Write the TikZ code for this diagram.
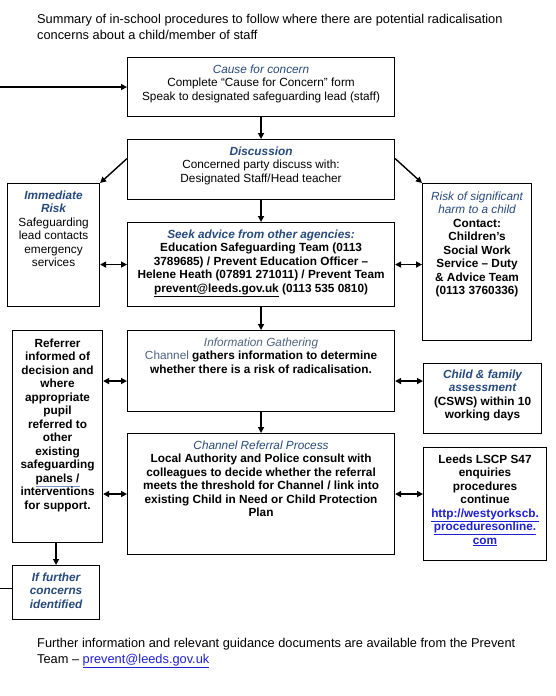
\documentclass[tikz,border=0pt]{standalone}
\usepackage{fontspec}
\setmainfont{Liberation Sans}
\usetikzlibrary{arrows.meta,calc}
\definecolor{hblue}{HTML}{274A7C}
\definecolor{gblue}{HTML}{4F6380}
\definecolor{lnk}{HTML}{1F1FD6}
\definecolor{ulblue}{HTML}{7A96C4}
\newcommand\bodyfont{\fontsize{11.8}{13.5}\selectfont}
\newcommand\bx[4]{\parbox[c][#2pt][t]{#1pt}{\centering\vspace*{#3pt}\strut #4}}
\newcommand\hbi[1]{\textcolor{hblue}{\bfseries\itshape #1}}
\newcommand\hi[1]{\textcolor{hblue}{\itshape #1}}
\newcommand\gi[1]{\textcolor{gblue}{\itshape #1}}
\begin{document}
\begin{tikzpicture}[x=1pt,y=-1pt,
  box/.style={draw, line width=1.1pt, inner sep=0pt, anchor=north west, font=\bodyfont},
  txt/.style={inner sep=0pt, anchor=north west, align=left, font=\fontsize{12.8}{16}\selectfont},
  conn/.style={line width=1.4pt},
  arr/.style={line width=1.4pt, -{Triangle[length=6pt,width=6pt]}},
  dbl/.style={line width=1.4pt, {Triangle[length=6pt,width=6pt]}-{Triangle[length=6pt,width=6pt]}}]
\fill[white] (0,0) rectangle (555,696);
\useasboundingbox (0,0) rectangle (555,696);

\node[txt] (title) at (37,14) {Summary of in-school procedures to follow where there are potential radicalisation\\concerns about a child/member of staff};

\node[box] (cause) at (127,57) {\bx{267}{59}{6}{\hi{Cause for concern}\\Complete “Cause for Concern” form\\Speak to designated safeguarding lead (staff)}};

\node[box] (disc) at (127,139) {\bx{267}{60}{6}{\hbi{Discussion}\\Concerned party discuss with:\\Designated Staff/Head teacher}};

\node[box] (imm) at (7,183) {\bx{92}{123}{6}{\hbi{Immediate}\\\hbi{Risk}\\Safeguarding\\lead contacts\\emergency\\services}};

\node[box] (risk) at (422,183) {\bx{109}{157}{7}{\hi{Risk of significant}\\\hi{harm to a child}\\\bfseries Contact:\\Children’s\\Social Work\\Service – Duty\\\& Advice Team\\(0113 3760336)}};

\node[box] (seek) at (127,222) {\bx{267}{84}{6}{\hbi{Seek advice from other agencies:}\\\bfseries Education Safeguarding Team (0113\\3789685) / Prevent Education Officer –\\Helene Heath (07891 271011) / Prevent Team\\\underline{prevent@leeds.gov.uk} (0113 535 0810)}};

\node[box] (info) at (127,330) {\bx{267}{81}{6}{\gi{Information Gathering}\\\textcolor{gblue}{Channel} \textbf{gathers information to determine}\\\textbf{whether there is a risk of radicalisation.}}};

\node[box] (ref) at (12,330) {\bx{90}{212}{7}{\bfseries Referrer\\informed of\\decision and\\where\\appropriate\\pupil\\referred to\\other\\existing\\safeguarding\\\textcolor{ulblue}{\underline{\textcolor{black}{panels /}}}\\interventions\\for support.}};

\node[box] (child) at (423,363) {\bx{118}{70}{5}{\hbi{Child \& family}\\\hbi{assessment}\\\bfseries (CSWS) within 10\\working days}};

\node[box] (chan) at (127,433) {\bx{267}{121}{6}{\hi{Channel Referral Process}\\\bfseries Local Authority and Police consult with\\colleagues to decide whether the referral\\meets the threshold for Channel / link into\\existing Child in Need or Child Protection\\Plan}};

\node[box] (leeds) at (423,447) {\bx{123}{113}{6}{\bfseries Leeds LSCP S47\\enquiries\\procedures\\continue\\\textcolor{lnk}{\underline{http://westyorkscb.}}\\\textcolor{lnk}{\underline{proceduresonline.}}\\\textcolor{lnk}{\underline{com}}}};

\node[box] (ifc) at (12,565) {\bx{87}{54}{6}{\hbi{If further}\\\hbi{concerns}\\\hbi{identified}}};

\node[txt] (foot) at (37,638) {Further information and relevant guidance documents are available from the Prevent\\Team – \textcolor{lnk}{\underline{prevent@leeds.gov.uk}}};

\coordinate (lin) at (0,86);
\coordinate (lout) at (0,588);

\draw[arr] (cause.west -| lin) -- (cause.west);
\draw[arr] (cause.south) -- (disc.north);
\draw[arr] (disc.south) -- (seek.north);
\draw[arr] (seek.south) -- (info.north);
\draw[arr] (info.south) -- (chan.north);
\draw[arr] ([yshift=11pt]disc.west) -- (imm.north east);
\draw[arr] ([yshift=11pt]disc.east) -- (risk.north west);
\draw[dbl] (seek.west -| imm.east) -- (seek.west);
\draw[dbl] (seek.east) -- (seek.east -| risk.west);
\draw[dbl] ([yshift=-10pt]info.west -| ref.east) -- ([yshift=-10pt]info.west);
\draw[dbl] ([yshift=-10pt]info.east) -- ([yshift=-10pt]info.east -| child.west);
\draw[dbl] (chan.west -| ref.east) -- (chan.west);
\draw[dbl] (chan.east) -- (chan.east -| leeds.west);
\draw[arr] (ref.south -| ifc.north) -- (ifc.north);
\draw[conn] ([yshift=4pt]ifc.west) -- ([yshift=4pt]ifc.west -| lout);
\end{tikzpicture}
\end{document}
